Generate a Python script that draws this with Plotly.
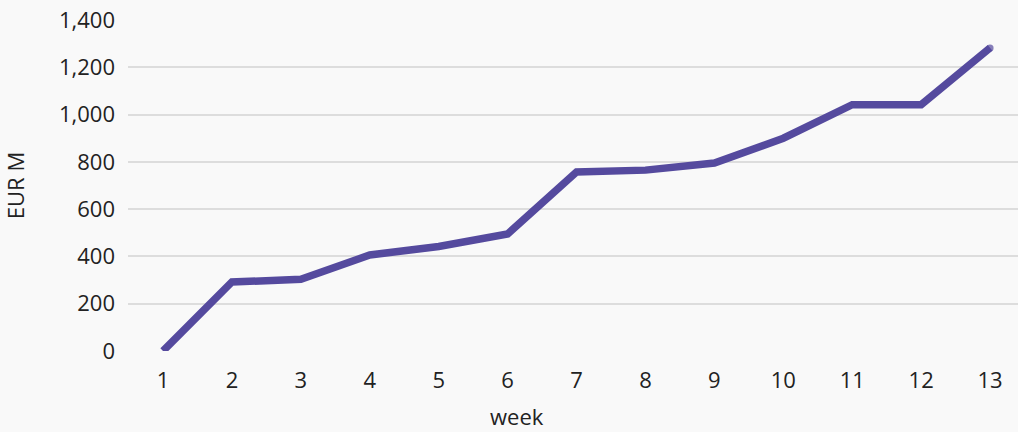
import plotly.graph_objects as go

# Cumulative amount by week
weeks = [1, 2, 3, 4, 5, 6, 7, 8, 9, 10, 11, 12, 13]
eur_m = [0, 292, 303, 406, 442, 495, 757, 765, 795, 900, 1042, 1042, 1282]

y_ticks = [0, 200, 400, 600, 800, 1000, 1200, 1400]
y_tick_text = ["0", "200", "400", "600", "800", "1,000", "1,200", "1,400"]

LINE = "#554a9e"
BG = "#f9f9f9"
FONT = "Open Sans"
TEXT = "#222222"

# round end cap on the final point
cap_sizes = [0] * (len(weeks) - 1) + [7]

fig = go.Figure(
    go.Scatter(
        x=weeks,
        y=eur_m,
        mode="lines+markers",
        line=dict(color=LINE, width=7.5),
        marker=dict(size=cap_sizes, color=LINE, line=dict(width=0)),
        hoverinfo="x+y",
    )
)

fig.update_layout(
    width=1018,
    height=432,
    margin=dict(l=128, r=0, t=20, b=81),
    paper_bgcolor=BG,
    plot_bgcolor=BG,
    font=dict(family=FONT, size=22, color=TEXT),
    showlegend=False,
    annotations=[
        dict(
            text="week",
            xref="paper", yref="paper",
            x=0.437, y=-0.196,
            xanchor="center", yanchor="middle",
            showarrow=False,
            font=dict(size=22, color=TEXT),
        )
    ],
)

fig.update_xaxes(
    range=[0.492, 13.405],
    tickvals=weeks,
    ticktext=[str(w) for w in weeks],
    showgrid=False,
    zeroline=False,
    showline=False,
    ticks="",
    ticklabelstandoff=14,
)

fig.update_yaxes(
    range=[0, 1400],
    tickvals=y_ticks,
    ticktext=y_tick_text,
    showgrid=True,
    gridcolor="#dddddd",
    gridwidth=1.5,
    zeroline=False,
    showline=False,
    ticks="",
    ticklabelstandoff=12,
    title=dict(text="EUR M", font=dict(size=22), standoff=28),
)

fig.write_html("out.html")
